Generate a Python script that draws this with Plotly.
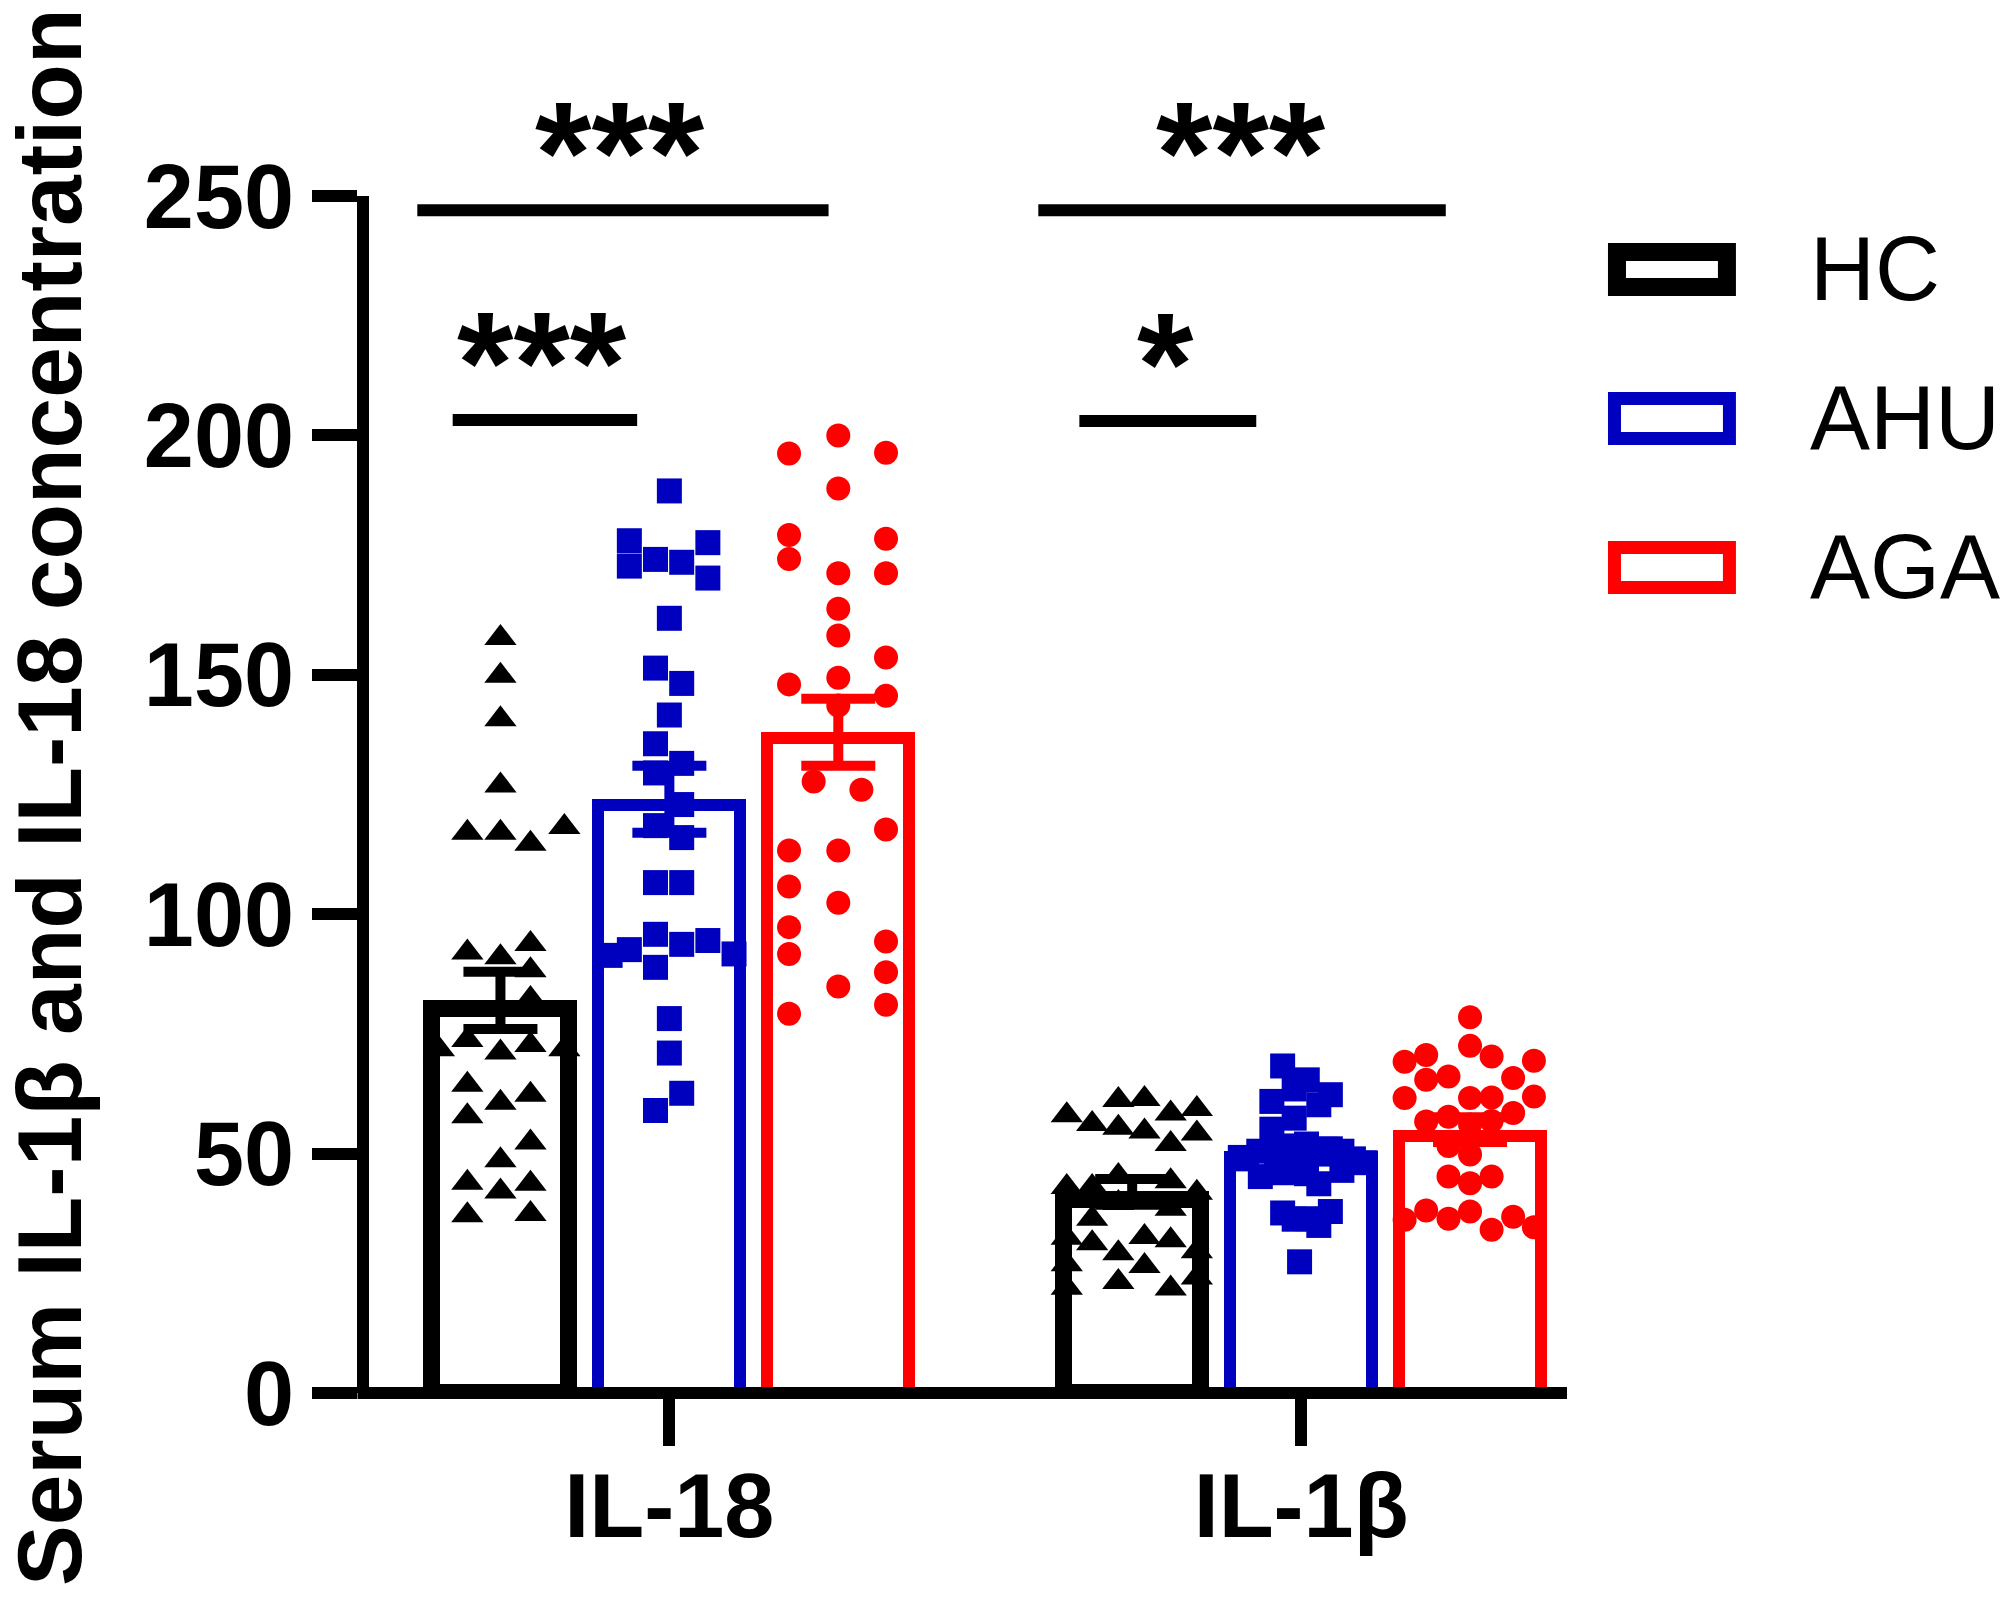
import plotly.graph_objects as go

# categories and groups
categories = ["IL-18", "IL-1β"]
groups = ["HC", "AHU", "AGA"]
colors = ["#000000", "#0000BF", "#FF0000"]
symbols = ["triangle-up", "square", "circle"]

# bar heights (mean) and SEM per category
hc_mean = [82, 42]
hc_sem = [6, 2.7]
ahu_mean = [124, 50.5]
ahu_sem = [7, 2]
aga_mean = [138, 55]
aga_sem = [7, 2.6]

# individual values; jitter is the lane inside the bar (fraction of half bar width)
hc_il18 = [157.7, 149.8, 140.7, 126.9, 117.0, 117.0, 114.7, 118.2, 92.0, 91.0,
           93.8, 88.3, 82.3, 73.7, 71.1, 72.7, 71.8, 71.8, 64.4, 60.6,
           62.3, 57.8, 52.3, 48.6, 43.9, 42.1, 43.7, 37.1, 37.4]
hc_il18_jit = [0, 0, 0, 0, -0.43, 0, 0.39, 0.83, -0.43, 0,
               0.39, 0.39, 0.39, -0.43, 0, 0.39, -0.80, 0.83, -0.43, 0,
               0.39, -0.43, 0.39, 0, -0.43, 0, 0.39, -0.43, 0.39]

ahu_il18 = [188.4, 178.0, 172.7, 174.1, 173.5, 177.6, 170.2, 161.8, 151.4, 148.2,
            141.6, 135.6, 131.5, 129.5, 122.9, 118.5, 116.0, 106.6, 106.6, 95.8,
            93.7, 94.5, 92.6, 91.4, 91.7, 88.9, 78.2, 71.0, 62.6, 59.0]
ahu_il18_jit = [0, -0.52, -0.52, -0.18, 0.16, 0.50, 0.50, 0, -0.18, 0.16,
                0, -0.18, 0.16, -0.18, 0.16, -0.18, 0.16, -0.18, 0.16, -0.18,
                0.16, 0.50, -0.52, -0.77, 0.84, -0.18, 0, 0, 0.16, -0.18]

aga_il18 = [200.0, 196.2, 196.4, 188.9, 179.2, 174.2, 178.4, 171.2, 171.2, 163.8,
            158.2, 153.6, 149.4, 148.0, 145.6, 143.6, 127.7, 126.0, 117.7, 113.3,
            113.3, 105.8, 102.4, 97.3, 91.7, 94.3, 87.9, 84.9, 81.1, 79.2]
aga_il18_jit = [0, -0.64, 0.62, 0, -0.64, -0.64, 0.62, 0.62, 0, 0,
                0, 0.62, 0, -0.64, 0.62, 0, -0.32, 0.30, 0.62, -0.64,
                0, -0.64, 0, -0.64, -0.64, 0.62, 0.62, 0, 0.62, -0.64]

hc_il1b = [58.0, 56.2, 61.2, 61.4, 55.4, 54.6, 58.4, 59.3, 52.0, 54.2,
           43.0, 43.0, 45.3, 44.2, 41.8, 39.7, 38.5, 36.4, 32.4, 31.3,
           32.6, 31.9, 29.6, 29.2, 26.9, 26.5, 22.0, 23.2, 21.8, 24.1]
hc_il1b_jit = [-0.85, -0.52, -0.18, 0.16, -0.18, 0.16, 0.50, 0.84, 0.50, 0.84,
               -0.85, -0.52, -0.18, 0.50, 0.84, -0.18, 0.50, -0.52, -0.85, -0.52,
               0.16, 0.50, 0.84, -0.18, -0.85, 0.16, -0.85, -0.18, 0.50, 0.84]

ahu_il1b = [68.3, 65.4, 62.3, 60.9, 63.5, 60.2, 57.4, 55.1, 51.6, 50.5,
            48.9, 49.9, 48.9, 48.1, 45.2, 46.0, 45.8, 43.7, 46.5, 37.6,
            36.4, 37.9, 36.3, 35.0, 27.4, 49.2, 50.5, 52.0, 49.5, 51.0]
ahu_il1b_jit = [-0.24, 0.08, 0.38, -0.38, -0.09, 0.23, -0.09, -0.38, -0.24, -0.55,
                -0.71, 0.23, 0.68, 0.83, -0.53, -0.23, 0.07, 0.23, 0.53, -0.24,
                0.08, 0.38, -0.09, 0.23, -0.02, -0.79, 0.53, 0.07, -0.09, 0.38]

aga_il1b = [78.5, 72.5, 70.6, 69.2, 70.3, 69.4, 65.4, 66.1, 65.8, 61.6,
            61.6, 61.7, 61.9, 56.7, 57.7, 58.5, 56.1, 56.8, 51.6, 49.8,
            45.2, 43.8, 45.2, 36.2, 38.1, 36.4, 37.9, 34.1, 36.8, 34.6]
aga_il1b_jit = [0, 0, -0.57, -0.85, 0.28, 0.83, -0.57, -0.28, 0.56, -0.85,
                0, 0.28, 0.83, -0.57, -0.28, 0.56, 0, 0.28, -0.28, 0,
                -0.28, 0, 0.28, -0.85, -0.57, -0.28, 0, 0.28, 0.56, 0.83]

means = [hc_mean, ahu_mean, aga_mean]
sems = [hc_sem, ahu_sem, aga_sem]
points = [[(hc_il18, hc_il18_jit), (hc_il1b, hc_il1b_jit)],
          [(ahu_il18, ahu_il18_jit), (ahu_il1b, ahu_il1b_jit)],
          [(aga_il18, aga_il18_jit), (aga_il1b, aga_il1b_jit)]]

# significance brackets: (x0, x1, y, label, label x)
sig_lines = [(-0.399, 0.252, 247, "***", -0.078),
             (-0.343, -0.051, 203.2, "***", -0.202),
             (0.584, 1.229, 247, "***", 0.905),
             (0.649, 0.929, 203, "*", 0.786)]

# geometry: figure pixels (page has an 8px body margin)
BODY = 8
W, H = 2014 - 2 * BODY, 1597 - 2 * BODY
AX_LW = 12
L, R, T, B = 360.5, 444, 187.6, 196.4
Y_MAX = 250.0
PX_Y = (H - B - T) / Y_MAX
PX_X = 632.0
X_RANGE = [(L - 661) / PX_X, 1 + (W - R - 1293) / PX_X]
STEP = 169 / PX_X
BAR_W = 154 / PX_X
outline = [17, 12, 12]
FONT = "Liberation Sans, Arial, sans-serif"

fig = go.Figure()

for j, g in enumerate(groups):
    off = (j - 1) * STEP
    lw = outline[j]
    xs = [i + off for i in range(len(categories))]
    # border drawn inside the bar outline like the original
    fig.add_trace(go.Bar(
        x=xs, y=[m - lw / 2 / PX_Y for m in means[j]],
        width=BAR_W - lw / PX_X,
        marker=dict(color="white", line=dict(color=colors[j], width=lw)),
        showlegend=False, name=g))

for j, g in enumerate(groups):
    off = (j - 1) * STEP
    for i in range(len(categories)):
        vals, jit = points[j][i]
        fig.add_trace(go.Scatter(
            x=[i + off + k * BAR_W / 2 for k in jit], y=vals, mode="markers",
            marker=dict(symbol=symbols[j], size=[28, 25, 24][j], color=colors[j],
                        line=dict(width=0)),
            showlegend=False, cliponaxis=False))
    fig.add_trace(go.Scatter(
        x=[i + off for i in range(len(categories))], y=means[j], mode="markers",
        marker=dict(size=1, opacity=0),
        error_y=dict(type="data", array=sems[j], color=colors[j], thickness=10, width=37),
        showlegend=False))


def px_x(p):
    # page x pixel -> paper
    return (p - BODY - L) / (W - L - R)


def px_y(p):
    # page y pixel -> paper
    return (H - B - (p - BODY)) / (H - T - B)


def val_y(v):
    # data value -> paper
    return v / Y_MAX


shapes = []
annotations = []

# x axis baseline centred on zero (plotly's own line would sit below it)
shapes.append(dict(type="line", xref="paper", yref="paper",
                   x0=px_x(357), x1=px_x(1567), y0=0, y1=0,
                   line=dict(color="black", width=AX_LW), layer="above"))

for x0, x1, y, lab, lx in sig_lines:
    shapes.append(dict(type="line", xref="x", yref="y", x0=x0, x1=x1, y0=y, y1=y,
                       line=dict(color="black", width=12)))
    annotations.append(dict(xref="x", yref="paper", x=lx, y=val_y(y + 12.0), text=lab,
                            showarrow=False, xanchor="center", yanchor="middle",
                            font=dict(family=FONT, size=145, color="black", weight="bold")))

# legend drawn by hand to match the large boxes
for j, g in enumerate(groups):
    cy = 269 + j * 149
    lw = outline[j] + 1
    shapes.append(dict(type="rect", xref="paper", yref="paper",
                       x0=px_x(1608 + lw / 2), x1=px_x(1736 - lw / 2),
                       y0=px_y(cy + 26.5 - lw / 2), y1=px_y(cy - 26.5 + lw / 2),
                       line=dict(color=colors[j], width=lw), fillcolor="rgba(0,0,0,0)"))
    annotations.append(dict(xref="paper", yref="paper", x=px_x(1808), y=px_y(cy), text=g,
                            showarrow=False, xanchor="left", yanchor="middle",
                            font=dict(family=FONT, size=90, color="black")))

annotations.append(dict(xref="paper", yref="paper", x=px_x(49), y=px_y(797),
                        text="Serum IL-1β and IL-18 concentration", textangle=-90,
                        showarrow=False, xanchor="center", yanchor="middle",
                        font=dict(family=FONT, size=91, color="black", weight="bold")))

fig.update_layout(
    width=W, height=H, margin=dict(l=L, r=R, t=T, b=B),
    paper_bgcolor="white", plot_bgcolor="white",
    bargap=0, barmode="overlay", showlegend=False,
    shapes=shapes, annotations=annotations,
    xaxis=dict(range=X_RANGE, tickvals=list(range(len(categories))), ticktext=categories,
               showgrid=False, zeroline=False, showline=False,
               ticks="outside", ticklen=52, tickwidth=12, tickcolor="black",
               ticklabelstandoff=-17,
               tickfont=dict(family=FONT, size=90, color="black", weight="bold")),
    yaxis=dict(range=[0, Y_MAX], tickvals=[0, 50, 100, 150, 200, 250],
               showgrid=False, zeroline=False, showline=True, linecolor="black", linewidth=AX_LW,
               ticks="outside", ticklen=45, tickwidth=12, tickcolor="black",
               tickfont=dict(family=FONT, size=90, color="black", weight="bold")),
)

fig.write_html("out.html")
